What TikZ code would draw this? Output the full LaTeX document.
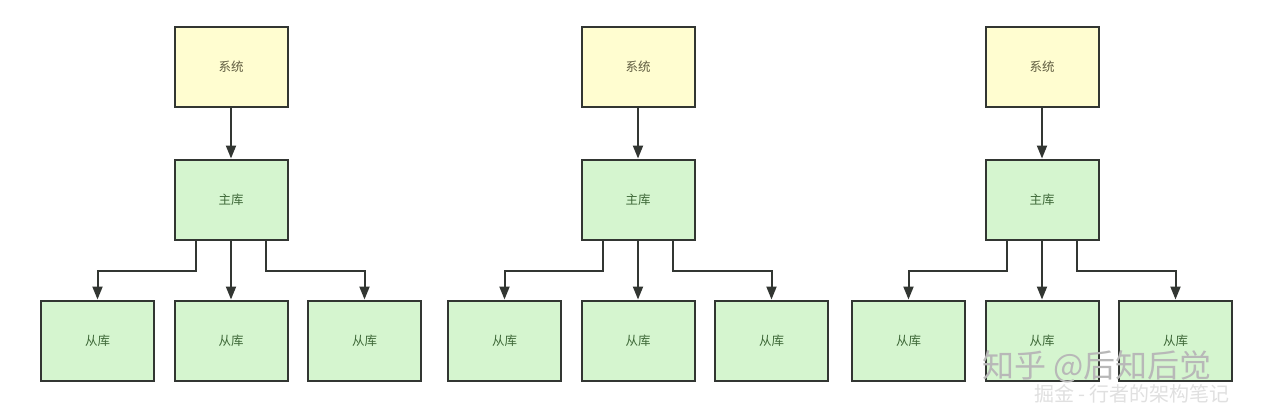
\documentclass[tikz,border=0pt]{standalone}
\usepackage{fontspec}
\newfontfamily\cjk{Noto Sans CJK SC}
\usetikzlibrary{arrows.meta}
\definecolor{sysyellow}{RGB}{255,253,208}
\definecolor{dbgreen}{RGB}{213,245,207}
\definecolor{boxline}{RGB}{50,54,50}
\definecolor{systext}{RGB}{95,92,64}
\definecolor{dbtext}{RGB}{62,104,56}
\tikzset{
  box/.style = {shape=rectangle, draw=boxline, line width=2pt,
    minimum width=113pt, minimum height=80pt, inner sep=0pt,
    font=\cjk\fontsize{12.5pt}{14pt}\selectfont},
  sysbox/.style = {box, fill=sysyellow, text=systext},
  dbbox/.style = {box, fill=dbgreen, text=dbtext},
  toleft/.style = {edge from parent path={([xshift=-35pt]\tikzparentnode.south)
      -- ++(0,-30pt) -| (\tikzchildnode.north)}},
  toright/.style = {edge from parent path={([xshift=35pt]\tikzparentnode.south)
      -- ++(0,-30pt) -| (\tikzchildnode.north)}},
  wmark/.style = {font=\cjk\fontsize{32pt}{34pt}\selectfont, text=black!28},
  wmarksub/.style = {font=\cjk\fontsize{20pt}{22pt}\selectfont, text=black!12}
}
\begin{document}
\begin{tikzpicture}[
    level 1/.style = {level distance=132.5pt},
    level 2/.style = {level distance=141pt, sibling distance=133.5pt},
    edge from parent/.style = {draw=boxline, line width=2pt,
      -{Triangle[width=10pt,length=13pt]}},
    edge from parent path = {(\tikzparentnode.south) -- (\tikzchildnode.north)}]
    \path[use as bounding box, fill=white] (0,0) rectangle (1270pt,-408pt);
    % first setup
    \node[sysbox] (sys1) at (231pt,-67pt) {系统}
        child { node[dbbox] (master1) {主库}
            child[toleft] { node[dbbox] (slaveA1) {从库} }
            child { node[dbbox] (slaveB1) {从库} }
            child[toright] { node[dbbox] (slaveC1) {从库} }
        };
    % second setup
    \node[sysbox] (sys2) at (638pt,-67pt) {系统}
        child { node[dbbox] (master2) {主库}
            child[toleft] { node[dbbox] (slaveA2) {从库} }
            child { node[dbbox] (slaveB2) {从库} }
            child[toright] { node[dbbox] (slaveC2) {从库} }
        };
    % third setup
    \node[sysbox] (sys3) at (1042pt,-67pt) {系统}
        child { node[dbbox] (master3) {主库}
            child[toleft] { node[dbbox] (slaveA3) {从库} }
            child { node[dbbox] (slaveB3) {从库} }
            child[toright] { node[dbbox] (slaveC3) {从库} }
        };
    % watermark
    \node[wmarksub] (wmsub) at (1132pt,-394pt) {掘金 - 行者的架构笔记};
    \node[wmark] (wm) at (1097pt,-367pt) {知乎 @后知后觉};
\end{tikzpicture}
\end{document}
